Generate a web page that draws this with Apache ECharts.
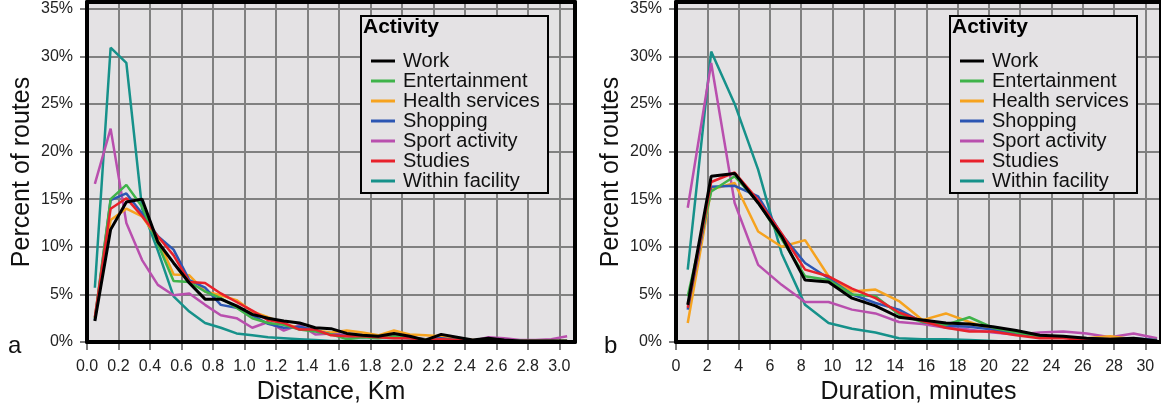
<!DOCTYPE html>
<html>
<head>
<meta charset="utf-8">
<script src="https://cdn.jsdelivr.net/npm/echarts@6/dist/echarts.min.js"></script>
<style>
  html, body { margin: 0; padding: 0; background: #ffffff; }
  #chart { width: 1161px; height: 410px; }
</style>
</head>
<body>
<div id="chart"></div>
<script>
// Bin centres: distance (km) and duration (minutes)
const distanceKm = [0.05, 0.15, 0.25, 0.35, 0.45, 0.55, 0.65, 0.75, 0.85, 0.95,
  1.05, 1.15, 1.25, 1.35, 1.45, 1.55, 1.65, 1.75, 1.85, 1.95,
  2.05, 2.15, 2.25, 2.35, 2.45, 2.55, 2.65, 2.75, 2.85, 2.95, 3.05];
const durationMin = [0.75, 2.25, 3.75, 5.25, 6.75, 8.25, 9.75, 11.25, 12.75, 14.25,
  15.75, 17.25, 18.75, 20.25, 21.75, 23.25, 24.75, 26.25, 27.75, 29.25, 30.75];

const activities = ['Work', 'Entertainment', 'Health services', 'Shopping',
  'Sport activity', 'Studies', 'Within facility'];

// Percent of routes per distance bin
const workDist   = [2.2, 11.8, 14.7, 15.0, 10.5, 8.3, 6.2, 4.5, 4.5, 3.8, 2.9, 2.5, 2.2, 2.0, 1.5, 1.4, 0.9, 0.7, 0.6, 0.9, 0.6, 0.2, 0.8, 0.5, 0.2, 0.4, 0.2, 0.1, 0.1, 0.1, 0.1];
const entDist    = [2.5, 15.0, 16.5, 14.2, 10.3, 6.4, 6.3, 5.3, 4.6, 3.6, 2.5, 2.0, 1.8, 1.3, 1.1, 0.8, 0.3, 0.5, 0.4, 0.6, 0.4, 0.3, 0.2, 0.2, 0.1, 0.1, 0.1, 0.1, 0.1, 0.1, 0.1];
const healthDist = [2.5, 12.8, 14.0, 13.2, 10.8, 7.1, 7.0, 5.3, 4.9, 4.4, 3.2, 2.6, 1.9, 1.5, 1.2, 1.0, 1.2, 1.0, 0.7, 1.2, 0.8, 0.7, 0.6, 0.3, 0.2, 0.1, 0.1, 0.1, 0.1, 0.1, 0.1];
const shopDist   = [2.3, 14.9, 15.6, 13.5, 11.1, 9.7, 6.5, 5.7, 3.9, 3.6, 2.8, 1.9, 1.5, 1.6, 1.2, 0.8, 0.6, 0.5, 0.6, 0.5, 0.4, 0.3, 0.4, 0.2, 0.1, 0.1, 0.1, 0.1, 0.0, 0.0, 0.0];
const sportDist  = [16.6, 22.4, 12.5, 8.6, 6.0, 4.9, 5.1, 3.9, 2.8, 2.5, 1.5, 2.1, 1.2, 1.8, 0.8, 0.9, 0.7, 0.6, 0.5, 0.6, 0.5, 0.3, 0.4, 0.2, 0.1, 0.5, 0.4, 0.2, 0.2, 0.3, 0.6];
const studyDist  = [2.6, 14.0, 15.1, 13.2, 11.1, 9.1, 6.3, 6.2, 5.1, 4.2, 3.3, 2.3, 2.0, 1.3, 1.3, 0.7, 0.6, 0.6, 0.5, 0.4, 0.4, 0.2, 0.3, 0.2, 0.1, 0.1, 0.1, 0.0, 0.0, 0.0, 0.0];
const withinDist = [5.7, 30.9, 29.3, 14.0, 9.6, 4.8, 3.2, 2.0, 1.5, 0.9, 0.7, 0.5, 0.4, 0.3, 0.2, 0.1, 0.1, 0.1, 0.1, 0.1, 0.1, 0.0, 0.0, 0.0, 0.0, 0.0, 0.0, 0.0, 0.0, 0.0, 0.0];

// Percent of routes per duration bin
const workDur   = [3.9, 17.4, 17.7, 14.6, 11.1, 6.5, 6.3, 4.6, 3.8, 2.6, 2.3, 2.0, 1.9, 1.6, 1.2, 0.7, 0.6, 0.4, 0.3, 0.4, 0.1];
const entDur    = [4.8, 15.8, 17.4, 14.7, 10.8, 6.9, 6.5, 5.0, 4.8, 2.9, 2.1, 1.8, 2.6, 1.5, 1.0, 0.6, 0.5, 0.3, 0.3, 0.3, 0.1];
const healthDur = [2.0, 16.0, 16.7, 11.6, 10.0, 10.7, 6.9, 5.3, 5.5, 4.3, 2.3, 3.0, 2.1, 1.3, 1.0, 0.5, 0.5, 0.4, 0.6, 0.3, 0.2];
const shopDur   = [3.4, 16.3, 16.4, 15.3, 11.3, 8.3, 6.7, 5.0, 4.1, 3.4, 2.1, 1.7, 1.6, 1.3, 0.9, 0.6, 0.5, 0.4, 0.3, 0.4, 0.2];
const sportDur  = [14.1, 29.3, 14.6, 8.1, 6.0, 4.2, 4.2, 3.4, 3.0, 2.1, 1.9, 1.5, 1.3, 1.0, 0.8, 1.0, 1.1, 0.9, 0.5, 0.9, 0.4];
const studyDur  = [3.6, 16.8, 17.8, 14.9, 11.4, 7.6, 6.9, 5.6, 4.6, 3.1, 2.2, 1.5, 1.1, 1.1, 0.7, 0.4, 0.4, 0.2, 0.1, 0.1, 0.0];
const withinDur = [7.6, 30.5, 25.0, 18.1, 9.3, 3.9, 2.0, 1.4, 1.0, 0.4, 0.3, 0.3, 0.2, 0.1, 0.0, 0.0, 0.0, 0.0, 0.0, 0.0, 0.0];

const colors = {
  'Work': '#000000',
  'Entertainment': '#3fb34a',
  'Health services': '#f6a31f',
  'Shopping': '#2c56b3',
  'Sport activity': '#b94fae',
  'Studies': '#e8212b',
  'Within facility': '#16918a'
};

const distSeries = {
  'Work': workDist, 'Entertainment': entDist, 'Health services': healthDist,
  'Shopping': shopDist, 'Sport activity': sportDist, 'Studies': studyDist,
  'Within facility': withinDist
};
const durSeries = {
  'Work': workDur, 'Entertainment': entDur, 'Health services': healthDur,
  'Shopping': shopDur, 'Sport activity': sportDur, 'Studies': studyDur,
  'Within facility': withinDur
};

const FONT = '"Liberation Sans", Arial, sans-serif';
const PLOT_BG = '#e4e2e4';
const GRID_LINE = '#808080';
const Y_MAX = 35.7;
const X_MAX = [3.1, 31];

// Drawing order: black (Work) ends up on top
const drawOrder = ['Within facility', 'Sport activity', 'Health services',
  'Shopping', 'Entertainment', 'Studies', 'Work'];

function pairs(xs, ys) { return xs.map((x, i) => [x, ys[i]]); }

const series = [];
[[distSeries, distanceKm, 0], [durSeries, durationMin, 1]].forEach(([set, xs, idx]) => {
  drawOrder.forEach(name => {
    series.push({
      name: name,
      type: 'line',
      xAxisIndex: idx,
      yAxisIndex: idx,
      data: pairs(xs, set[name]),
      showSymbol: false,
      symbol: 'none',
      color: colors[name],
      lineStyle: { width: name === 'Work' ? 3 : 2.5, color: colors[name] },
      z: name === 'Work' ? 4 : 3,
      silent: true,
      animation: false
    });
  });
});

function yAxisCfg(gridIndex) {
  return {
    type: 'value', gridIndex: gridIndex, position: 'left',
    min: 0, max: Y_MAX, interval: 5,
    name: 'Percent of routes', nameLocation: 'middle', nameGap: 52,
    nameTextStyle: { fontSize: 25, color: '#111', fontFamily: FONT },
    axisLine: { show: false },
    axisTick: { show: true, length: 7, lineStyle: { color: '#555', width: 1.5 } },
    axisLabel: { formatter: '{value}%', fontSize: 16, color: '#222', fontFamily: FONT, margin: 14 },
    splitLine: { show: true, lineStyle: { color: GRID_LINE, width: 2 } }
  };
}

function xAxisCfg(gridIndex, interval, name, fmt) {
  return {
    type: 'value', gridIndex: gridIndex, position: 'bottom',
    min: 0, max: X_MAX[gridIndex], interval: interval,
    name: name, nameLocation: 'middle', nameGap: 38,
    nameTextStyle: { fontSize: 25, color: '#111', fontFamily: FONT },
    axisLine: { show: false },
    axisTick: { show: true, length: 8, lineStyle: { color: '#555', width: 1.5 } },
    axisLabel: { formatter: fmt, fontSize: 16, color: '#222', fontFamily: FONT, margin: 17 },
    splitLine: { show: true, lineStyle: { color: GRID_LINE, width: 2 } }
  };
}

// Thick black frame drawn above the lines
function frameAxis(kind, gridIndex, position) {
  return {
    type: 'value', gridIndex: gridIndex, position: position,
    min: 0, max: kind === 'x' ? X_MAX[gridIndex] : Y_MAX,
    axisLine: { show: true, onZero: false, lineStyle: { color: '#000', width: 4 } },
    axisTick: { show: false }, axisLabel: { show: false }, splitLine: { show: false },
    z: 10, silent: true
  };
}

function legendCfg(left) {
  return {
    data: activities,
    orient: 'vertical',
    left: left, top: 46,
    icon: 'rect', itemWidth: 24, itemHeight: 3, itemGap: 0,
    selectedMode: false,
    textStyle: { fontSize: 20, lineHeight: 20, color: '#111', fontFamily: FONT, padding: [0, 0, 0, 3] },
    z: 6
  };
}

function legendBox(x) {
  return [
    { type: 'rect', left: x, top: 15, z: 5,
      shape: { width: 187, height: 177 },
      style: { fill: PLOT_BG, stroke: '#000', lineWidth: 2 } },
    { type: 'text', left: x + 3, top: 17, z: 7,
      style: { text: 'Activity', font: 'bold 21px ' + FONT, fill: '#000' } }
  ];
}

const chart = echarts.init(document.getElementById('chart'), null, { renderer: 'canvas' });
chart.setOption({
  backgroundColor: '#ffffff',
  animation: false,
  grid: [
    { left: 87, top: 2, width: 488, height: 340, show: true,
      backgroundColor: PLOT_BG, borderWidth: 0 },
    { left: 676, top: 2, width: 487, height: 340, show: true,
      backgroundColor: PLOT_BG, borderWidth: 0 }
  ],
  xAxis: [
    xAxisCfg(0, 0.2, 'Distance, Km', v => v.toFixed(1)),
    xAxisCfg(1, 2, 'Duration, minutes', v => String(Math.round(v))),
    frameAxis('x', 0, 'bottom'), frameAxis('x', 0, 'top'),
    frameAxis('x', 1, 'bottom'), frameAxis('x', 1, 'top')
  ],
  yAxis: [
    yAxisCfg(0), yAxisCfg(1),
    frameAxis('y', 0, 'left'), frameAxis('y', 0, 'right'),
    frameAxis('y', 1, 'left'), frameAxis('y', 1, 'right')
  ],
  legend: [legendCfg(366), legendCfg(955)],
  graphic: [
    ...legendBox(360),
    ...legendBox(949),
    { type: 'text', left: 8, top: 334, z: 7,
      style: { text: 'a', font: '24px ' + FONT, fill: '#111' } },
    { type: 'text', left: 604, top: 334, z: 7,
      style: { text: 'b', font: '24px ' + FONT, fill: '#111' } }
  ],
  series: series
});
</script>
</body>
</html>
